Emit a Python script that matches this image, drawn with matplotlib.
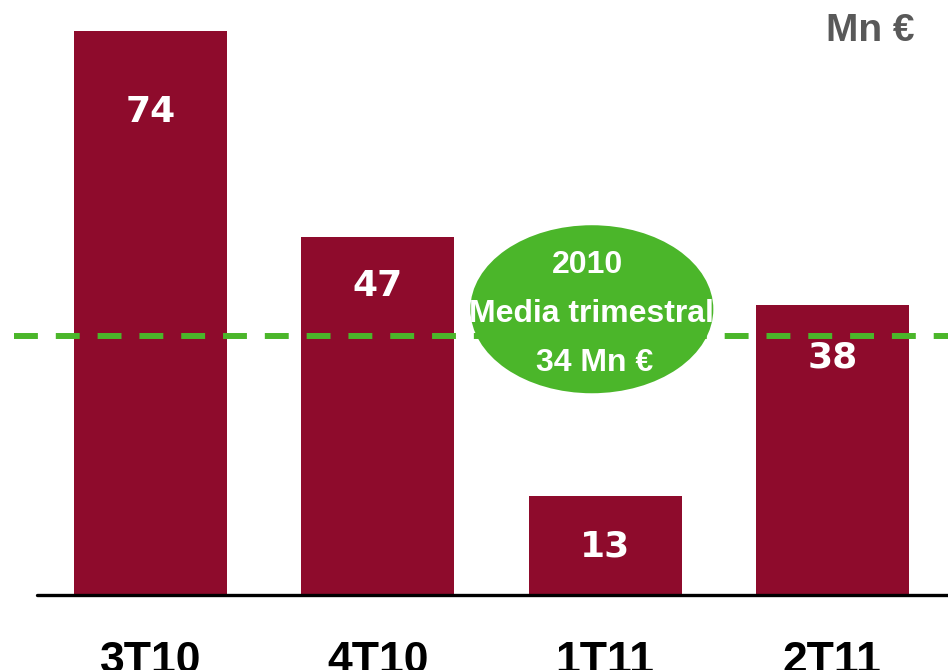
import matplotlib
matplotlib.use("Agg")
import matplotlib.pyplot as plt
from matplotlib.patches import Ellipse

# Quarterly figures (Mn €)
quarters = ["3T10", "4T10", "1T11", "2T11"]
values = [74, 47, 13, 38]
average_2010 = 34
bubble_lines = ["2010", "Media trimestral", "34 Mn €"]
unit_label = "Mn €"

BAR_COLOR = "#8E0B2C"
GREEN = "#4BB62A"

fig = plt.figure(figsize=(9.48, 6.70), dpi=100)
ax = fig.add_axes([0, 0, 1, 1])
ax.set_xlim(-0.662, 3.509)
ax.set_ylim(-9.84, 78.08)
ax.axis("off")

x = list(range(len(quarters)))
ax.bar(x, values, width=0.673, color=BAR_COLOR, zorder=2)

# baseline
ax.plot([-0.50, 3.6], [0, 0], color="black", lw=2.4, solid_capstyle="round", zorder=3)

# value labels inside bars
offsets = [10.6, 6.4, 6.6, 6.8]
for xi, v, off in zip(x, values, offsets):
    ax.text(xi, v - off, f"{v}", ha="center", va="center", color="white",
            fontsize=26, fontweight="bold", family="DejaVu Sans", zorder=5)

# category labels
for xi, q in zip(x, quarters):
    ax.text(xi, -8.7, q, ha="center", va="center", color="black",
            fontsize=32, fontweight="bold",
            family=["Liberation Sans Narrow", "Liberation Sans"], zorder=5)

# 2010 quarterly average
ax.axhline(average_2010, xmin=0.015, xmax=1.0, color=GREEN, lw=4.3,
           dashes=(4, 3), zorder=4)

ell = Ellipse((1.942, 37.5), 1.069, 22.05, facecolor=GREEN, edgecolor="none", zorder=6)
ax.add_patch(ell)
for (yy, xx), line in zip([(43.3, 1.925), (36.9, 1.942), (30.4, 1.955)], bubble_lines):
    ax.text(xx, yy, line, ha="center", va="center", color="white",
            fontsize=23, fontweight="bold", family="Liberation Sans", zorder=7)

fig.text(0.965, 0.953, unit_label, ha="right", va="center", color="#595959",
         fontsize=28, fontweight="bold", family="Liberation Sans")

fig.savefig("out.png", dpi=100)
